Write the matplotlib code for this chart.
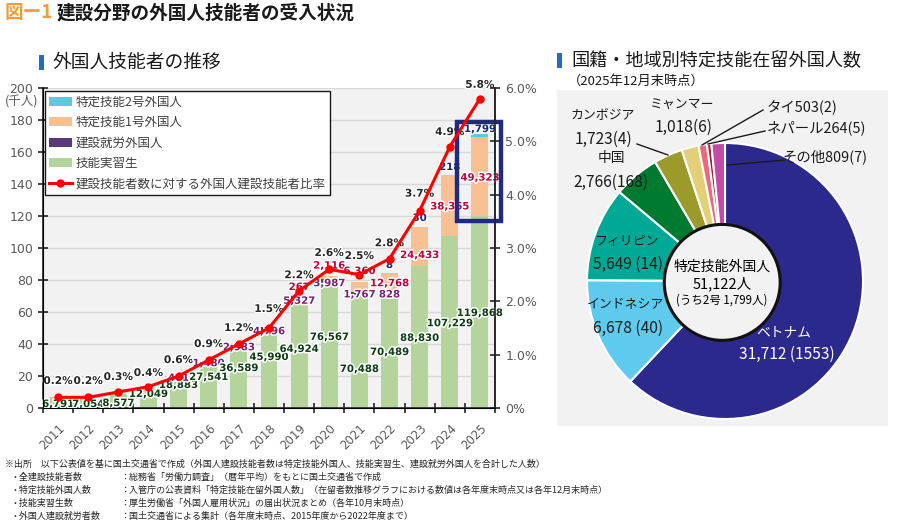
import matplotlib
matplotlib.use("Agg")
import matplotlib.pyplot as plt
import matplotlib.patheffects as pe
from matplotlib.patches import Rectangle, Circle, Patch
from matplotlib.lines import Line2D
import numpy as np

# ---------------- data ----------------
years = [str(y) for y in range(2011, 2026)]
intern = [6791, 7054, 8577, 12049, 18883, 27541, 36589, 45990, 64924, 76567,
          70488, 70489, 88830, 107229, 119868]
construction = [0, 0, 0, 0, 401, 1480, 2983, 4796, 5327, 3987, 1767, 828, 0, 0, 0]
ssw1 = [0, 0, 0, 0, 0, 0, 0, 0, 267, 2116, 6360, 12768, 24433, 38365, 49323]
ssw2 = [0, 0, 0, 0, 0, 0, 0, 0, 0, 0, 0, 8, 30, 218, 1799]
ratio = [0.2, 0.2, 0.3, 0.4, 0.6, 0.9, 1.2, 1.5, 2.2, 2.6, 2.5, 2.8, 3.7, 4.9, 5.8]

# label heights (thousand persons, left axis)
intern_label_y = [2.5, 2.5, 3.1, 8.8, 14.4, 19.4, 25, 31.9, 36.9, 44.4, 24.4, 35, 43.8, 53, 59.4]
construction_label_y = [0, 0, 0, 0, 18.8, 28, 38, 48, 67, 78, 71, 71, 0, 0, 0]
ssw1_label_y = [0, 0, 0, 0, 0, 0, 0, 0, 75.6, 89, 85.6, 78, 95.6, 126, 144]
ssw2_label_y = [0, 0, 0, 0, 0, 0, 0, 0, 0, 0, 0, 89.4, 118.8, 150.6, 174.4]
ratio_label_y = [16.9, 16.9, 19.4, 21.9, 30, 40, 50, 61.9, 83, 96.9, 95, 103, 134, 172.5, 202]

countries = ["ベトナム", "インドネシア", "フィリピン", "中国", "カンボジア",
             "ミャンマー", "タイ", "ネパール", "その他"]
pie_values = [31712, 6678, 5649, 2766, 1723, 1018, 503, 264, 809]
pie_ssw2 = [1553, 40, 14, 168, 4, 6, 2, 5, 7]

# ---------------- style ----------------
JP = ["Noto Sans CJK JP", "DejaVu Sans"]
plt.rcParams["font.family"] = JP
C_GREEN = "#b4d49b"
C_PURPLE = "#58397a"
C_ORANGE = "#f9c094"
C_CYAN = "#5ec8dc"
C_RED = "#ff0000"
BG = "#f2f2f2"
GREY_TXT = "#595959"

W, H = 900, 522
fig = plt.figure(figsize=(9, 5.22), dpi=100)


def fx(x):
    return x / W


def fy(y):
    return 1 - y / H


# ---------------- titles ----------------
fig.text(fx(5), fy(13), "図ー1", color="#f39a3c", fontsize=13.4, fontweight="bold",
         va="center", ha="left")
fig.text(fx(57), fy(13), "建設分野の外国人技能者の受入状況", color="#1a1a1a",
         fontsize=13.4, fontweight="bold", va="center", ha="left")

fig.patches.append(Rectangle((fx(39), fy(70)), fx(5), 15 / H, transform=fig.transFigure,
                             facecolor="#1e6fc0", edgecolor="none"))
fig.text(fx(52), fy(62), "外国人技能者の推移", fontsize=13.5, va="center", ha="left",
         color="#1a1a1a")
fig.patches.append(Rectangle((fx(557), fy(68)), fx(5), 15 / H, transform=fig.transFigure,
                             facecolor="#1e6fc0", edgecolor="none"))
fig.text(fx(571), fy(61), "国籍・地域別特定技能在留外国人数", fontsize=13.1, va="center",
         ha="left", color="#1a1a1a")
fig.text(fx(568), fy(81), "（2025年12月末時点）", fontsize=9.5, va="center", ha="left",
         color="#1a1a1a")

# ---------------- left chart ----------------
ax = fig.add_axes([fx(43), fy(408), 452 / W, 320 / H])
ax.set_facecolor(BG)
x = np.arange(len(years))
bw = 0.56
g = np.array(intern) / 1000
p = np.array(construction) / 1000
o = np.array(ssw1) / 1000
c = np.array(ssw2) / 1000
ax.bar(x, g, bw, color=C_GREEN, zorder=2)
ax.bar(x, p, bw, bottom=g, color=C_PURPLE, zorder=2)
ax.bar(x, o, bw, bottom=g + p, color=C_ORANGE, zorder=2)
ax.bar(x, c, bw, bottom=g + p + o, color=C_CYAN, zorder=2)

ax.set_xlim(-0.5, len(years) - 0.5)
ax.set_ylim(0, 200)
ax.set_yticks(np.arange(0, 201, 20))
ax.yaxis.grid(True, color="#d9d9d9", linewidth=1, zorder=0)
ax.set_axisbelow(True)
ax.tick_params(axis="y", direction="inout", length=7, width=1.2, colors="#262626",
               labelcolor=GREY_TXT, labelsize=9)
for t in ax.get_yticklabels():
    t.set_fontfamily("DejaVu Sans")
ax.set_xticks(np.arange(-0.5, len(years), 1.0))
ax.set_xticklabels([])
ax.tick_params(axis="x", which="major", direction="inout", length=7, width=1.2,
               colors="#262626")
ax.set_xticks(x, minor=True)
ax.set_xticklabels(years, minor=True, rotation=45, ha="right", rotation_mode="anchor",
                   fontsize=8.5, color=GREY_TXT, fontfamily="DejaVu Sans")
ax.tick_params(axis="x", which="minor", length=0, pad=10)
ax.spines["top"].set_visible(False)
for s in ["left", "bottom", "right"]:
    ax.spines[s].set_color("#262626")
    ax.spines[s].set_linewidth(1.2)
ax.text(-0.047, 0.955, "(千人)", transform=ax.transAxes, fontsize=9, color=GREY_TXT,
        ha="center", va="center")

ax2 = ax.twinx()
ax2.set_ylim(0, 6)
ax2.set_yticks(np.arange(0, 7, 1))
ax2.set_yticklabels(["0%"] + [f"{v:.1f}%" for v in range(1, 7)])
ax2.tick_params(axis="y", direction="inout", length=7, width=1.2, colors="#262626",
                labelcolor=GREY_TXT, labelsize=9, pad=4)
for t in ax2.get_yticklabels():
    t.set_fontfamily("DejaVu Sans")
ax2.spines["top"].set_visible(False)
ax2.spines["right"].set_color("#262626")
ax2.spines["right"].set_linewidth(1.2)
ax2.plot(x, ratio, color=C_RED, linewidth=2.2, marker="o", markersize=5, zorder=5)

halo = [pe.withStroke(linewidth=2.2, foreground="white")]
lab_kw = dict(ha="center", va="center", fontsize=7.3, fontweight="bold",
              fontfamily="DejaVu Sans", path_effects=halo, zorder=10)
for i in range(len(years)):
    ax.text(x[i], intern_label_y[i], f"{intern[i]:,}", color="#0b3d12", **lab_kw)
    if construction[i]:
        ax.text(x[i], construction_label_y[i], f"{construction[i]:,}", color="#7a1f73", **lab_kw)
    if ssw1[i]:
        ax.text(x[i], ssw1_label_y[i], f"{ssw1[i]:,}", color="#c0003c", **lab_kw)
    if ssw2[i]:
        ax.text(x[i], ssw2_label_y[i], f"{ssw2[i]:,}", color="#1a237e", **lab_kw)
    ax.text(x[i], ratio_label_y[i], f"{ratio[i]:.1f}%", color="#262626", clip_on=False,
            **{**lab_kw, "fontsize": 7.6})

# highlight box around the latest year
last = len(years) - 1
ax.add_patch(Rectangle((last - 0.76, 117), 1.46, 62, fill=False, edgecolor="#1f2a80",
                       linewidth=3.2, clip_on=False, zorder=12))

handles = [Patch(facecolor=C_CYAN), Patch(facecolor=C_ORANGE), Patch(facecolor=C_PURPLE),
           Patch(facecolor=C_GREEN),
           Line2D([0], [0], color=C_RED, linewidth=2.2, marker="o", markersize=5)]
labels = ["特定技能2号外国人", "特定技能1号外国人", "建設就労外国人", "技能実習生",
          "建設技能者数に対する外国人建設技能者比率"]
leg = ax2.legend(handles, labels, loc="upper left", bbox_to_anchor=(0.004, 0.99),
                 fontsize=9, frameon=True, fancybox=False, edgecolor="#1a1a1a",
                 framealpha=1, borderpad=0.35, labelspacing=0.6, handlelength=1.8,
                 handletextpad=0.3, borderaxespad=0)
leg.get_frame().set_linewidth(1.0)
for t in leg.get_texts():
    t.set_color("#404040")
leg.set_zorder(20)

# ---------------- right chart ----------------
fig.patches.append(Rectangle((fx(557), fy(426)), 331 / W, 336 / H, transform=fig.transFigure,
                             facecolor=BG, edgecolor="none", zorder=-5))
R = 138
cx, cy = 725, 281
axp = fig.add_axes([fx(cx - R), fy(cy + R), 2 * R / W, 2 * R / H])
axp.set_zorder(2)
axp.set_facecolor("none")
axp.axis("off")
pie_colors = ["#2b2a8c", "#5ecbee", "#00a996", "#007a30", "#9c9a2a", "#e2cf78",
              "#ea6a7c", "#a31e3e", "#c24ba8"]
axp.pie(pie_values, colors=pie_colors, startangle=90, counterclock=False, radius=1,
        wedgeprops=dict(edgecolor="white", linewidth=1.5))
axp.add_patch(Circle((-0.02, -0.01), 0.42, facecolor=BG, edgecolor="#111111",
                     linewidth=2.2, zorder=5))
axp.set_xlim(-1, 1)
axp.set_ylim(-1, 1)

TZ = 10
fig.text(fx(722), fy(267), "特定技能外国人", fontsize=10, ha="center", va="center", zorder=TZ)
fig.text(fx(722), fy(284), f"{sum(pie_values):,}人", fontsize=10.5, ha="center", va="center",
         zorder=TZ)
fig.text(fx(722), fy(300), f"(うち2号 {sum(pie_ssw2):,}人)", fontsize=8.3, ha="center",
         va="center", zorder=TZ)

NF = 11.2   # numbers
KF = 9.3    # country names
def ptxt(xp, yp, s, color="#1a1a1a", fs=NF, ha="center"):
    fig.text(fx(xp), fy(yp), s, fontsize=fs, ha=ha, va="center", color=color, zorder=TZ)

ptxt(784, 332, countries[0], color="white", fs=KF + 0.6)
ptxt(787, 354, f"{pie_values[0]:,} ({pie_ssw2[0]})", color="white")
ptxt(626, 305, countries[1], fs=KF)
ptxt(628, 328, f"{pie_values[1]:,} ({pie_ssw2[1]})")
ptxt(626, 241, countries[2], fs=KF)
ptxt(628, 264, f"{pie_values[2]:,} ({pie_ssw2[2]})")
ptxt(611, 158, countries[3], fs=KF + 0.6)
ptxt(611, 182, f"{pie_values[3]:,}({pie_ssw2[3]})")
ptxt(603, 116, countries[4], fs=KF)
ptxt(603, 139, f"{pie_values[4]:,}({pie_ssw2[4]})")
ptxt(682, 104, countries[5], fs=KF)
ptxt(684, 127, f"{pie_values[5]:,}({pie_ssw2[5]})")
ptxt(767, 107, f"{countries[6]}{pie_values[6]}({pie_ssw2[6]})", ha="left", fs=10.4)
ptxt(767, 128, f"{countries[7]}{pie_values[7]}({pie_ssw2[7]})", ha="left", fs=10.4)
ptxt(782, 157, f"{countries[8]}{pie_values[8]}({pie_ssw2[8]})", ha="left", fs=10.4)

for (x0, y0, x1, y1) in [(637, 144, 668, 155), (763, 110, 702, 145),
                         (765, 131, 708, 144), (785, 160, 727, 165)]:
    ln = Line2D([fx(x0), fx(x1)], [fy(y0), fy(y1)], transform=fig.transFigure,
                color="#1a1a1a", linewidth=1.0)
    ln.set_zorder(TZ)
    fig.add_artist(ln)

# ---------------- footnotes ----------------
FN = 6.5
fig.text(fx(5), fy(464), "※出所　以下公表値を基に国土交通省で作成（外国人建設技能者数は特定技能外国人、技能実習生、建設就労外国人を合計した人数）",
         fontsize=FN, va="center", ha="left", color="#262626")
notes_l = ["・全建設技能者数", "・特定技能外国人数", "・技能実習生数", "・外国人建設就労者数"]
notes_r = ["：総務省「労働力調査」（暦年平均）をもとに国土交通省で作成",
           "：入管庁の公表資料「特定技能在留外国人数」（在留者数推移グラフにおける数値は各年度末時点又は各年12月末時点）",
           "：厚生労働省「外国人雇用状況」の届出状況まとめ（各年10月末時点）",
           "：国土交通省による集計（各年度末時点、2015年度から2022年度まで）"]
for k, (a, b) in enumerate(zip(notes_l, notes_r)):
    yy = 477 + 13 * k
    fig.text(fx(10), fy(yy), a, fontsize=FN, va="center", ha="left", color="#262626")
    fig.text(fx(120), fy(yy), b, fontsize=FN, va="center", ha="left", color="#262626")

fig.savefig("out.png", dpi=100)
